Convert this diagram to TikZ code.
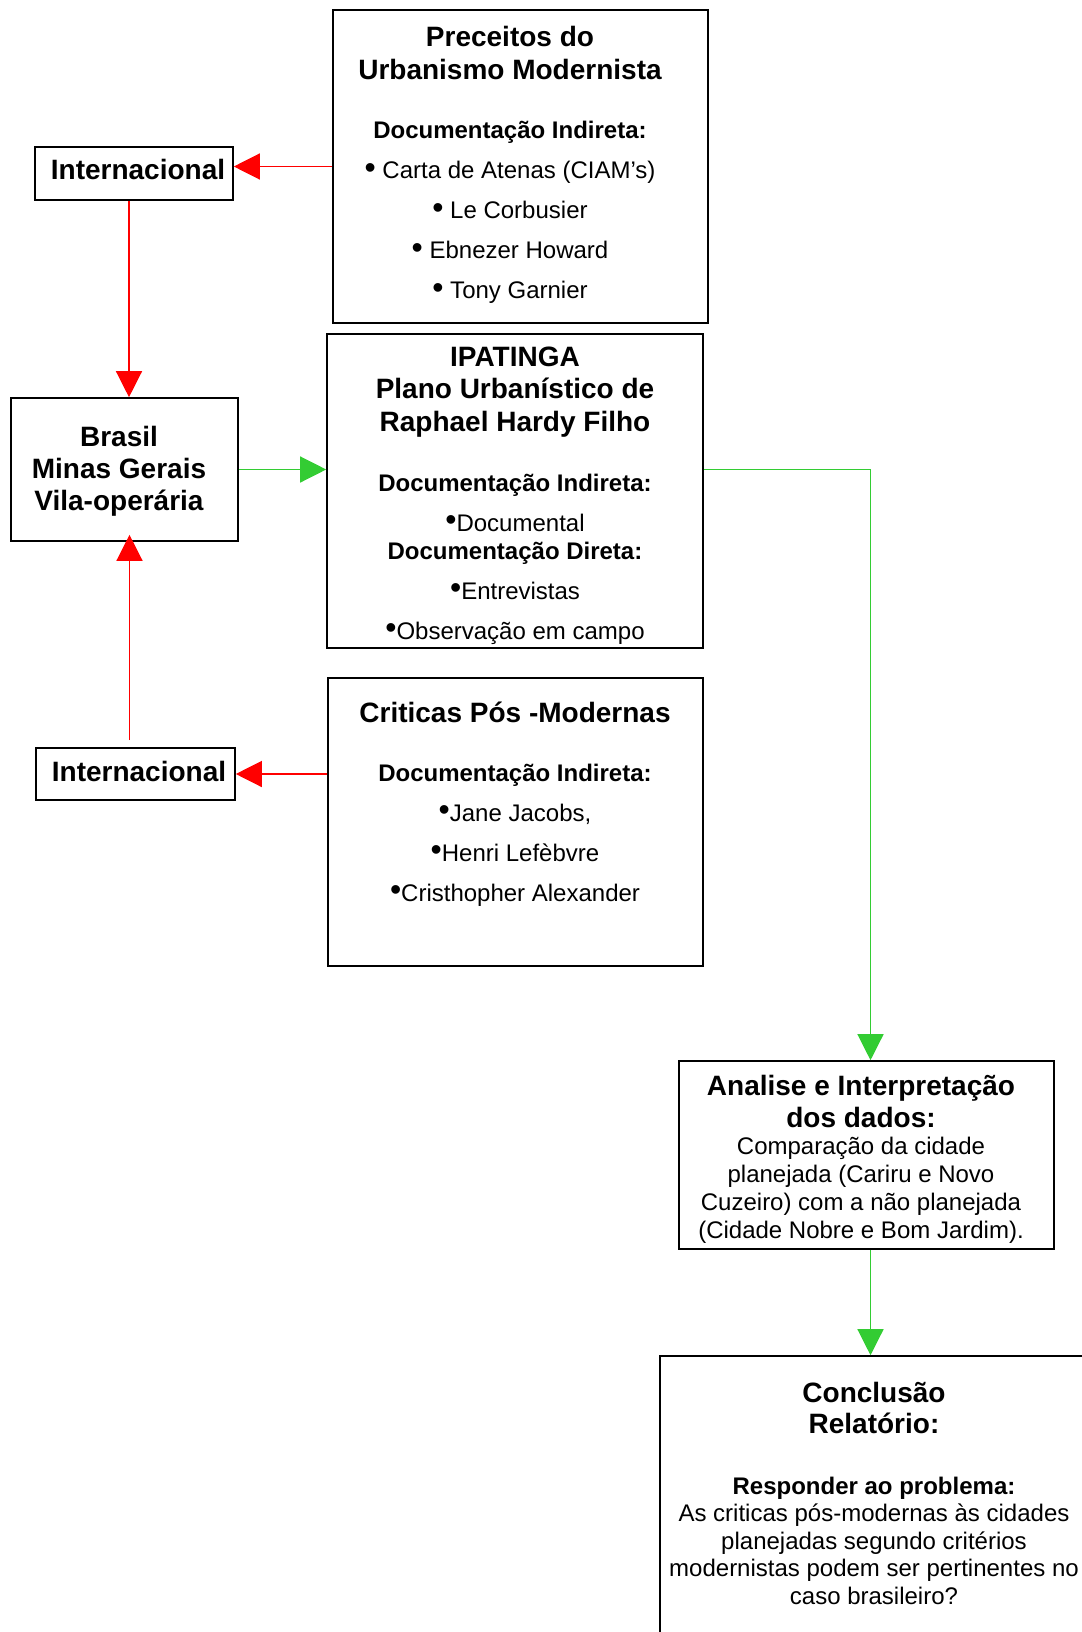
\documentclass[tikz,border=0pt]{standalone}
\usepackage{fontspec}
\setmainfont{Liberation Sans}
\usetikzlibrary{arrows.meta}
\definecolor{verde}{RGB}{51,204,51}
\setlength{\parindent}{0pt}
\setlength{\parskip}{0pt}
% tamanho, entrelinha e espaco natural entre palavras
\newcommand{\letra}[2]{\fontsize{#1}{#2}\selectfont\spaceskip=\fontdimen2\font\relax}
\newcommand{\negrito}[2]{\fontsize{#1}{#2}\selectfont\bfseries\spaceskip=\fontdimen2\font\relax}
\newcommand{\titulo}{\negrito{28}{33}}
\newcommand{\subtitulo}{\negrito{24}{40}}
\newcommand{\corpo}{\letra{24}{40}}
\newcommand{\blt}{\raisebox{.02em}{\fontsize{32}{0}\selectfont•}}

\begin{document}
\begin{tikzpicture}[x=1pt, y=-1pt,
    caixa/.style={draw, line width=1.6pt, inner sep=0pt},
    texto/.style={anchor=base, inner sep=0pt, text width=460pt, execute at begin node=\centering},
    setaVermelha/.style={red, line width=1.3pt, -{Triangle[length=26pt, width=26pt]}},
    setaVerde/.style={verde, line width=1.3pt, -{Triangle[length=26pt, width=26pt]}}]
            \useasboundingbox (0,0) rectangle (1081,1632);

            % caixas
            \node [caixa, minimum width=375pt, minimum height=313pt] (preceitos) at (520.5,166.5) {};
            \node [caixa, minimum width=198pt, minimum height=53pt] (intTop) at (134,173.5) {};
            \node [caixa, minimum width=227pt, minimum height=143pt] (brasil) at (124.5,469.5) {};
            \node [caixa, minimum width=376pt, minimum height=314pt] (ipatinga) at (515,491) {};
            \node [caixa, minimum width=199pt, minimum height=52pt] (intBot) at (135.5,774) {};
            \node [caixa, minimum width=375pt, minimum height=288pt] (criticas) at (515.5,822) {};
            \node [caixa, minimum width=375pt, minimum height=188pt] (analise) at (866.5,1155) {};
            \node [caixa, minimum width=430pt, minimum height=364pt] (conclusao) at (875,1538) {};

            % textos
            \node [texto] (preceitosTxt) at (510,47) {{\titulo Preceitos do\\Urbanismo Modernista\par}
                \vspace{19pt}{\subtitulo Documentação Indireta:\par}
                {\corpo\blt\ Carta de Atenas (CIAM’s)\par\blt\ Le Corbusier\par
                \blt\ Ebnezer Howard\par\blt\ Tony Garnier\par}};
            \node [texto] (intTopTxt) at (138,180) {\titulo Internacional};
            \node [texto] (brasilTxt) at (119,446) {\negrito{28}{32}Brasil\\Minas Gerais\\Vila-operária\par};
            \node [texto] (ipatingaTxt) at (515,366) {{\negrito{28}{32.5}IPATINGA\\Plano Urbanístico de\\Raphael Hardy Filho\par}
                \vspace{20pt}{\subtitulo Documentação Indireta:\par}
                {\corpo\blt Documental\par}
                \vspace{-12pt}{\subtitulo Documentação Direta:\par}
                {\corpo\blt Entrevistas\par\blt Observação em campo\par}};
            \node [texto] (intBotTxt) at (139,781) {\titulo Internacional};
            \node [texto] (criticasTxt) at (515,722) {{\titulo Criticas Pós -Modernas\par}
                \vspace{19pt}{\subtitulo Documentação Indireta:\par}
                {\corpo\blt Jane Jacobs,\par\blt Henri Lefèbvre\par\blt Cristhopher Alexander\par}};
            \node [texto] (analiseTxt) at (861,1095) {{\negrito{28}{32}Analise e Interpretação\\dos dados:\par}
                \vspace{-1pt}{\letra{24}{28}Comparação da cidade\\planejada (Cariru e Novo\\Cuzeiro) com a não planejada\\(Cidade Nobre e Bom Jardim).\par}};
            \node [texto] (conclusaoTxt) at (874,1402) {{\negrito{28}{31}Conclusão\\Relatório:\par}
                \vspace{33pt}{\negrito{24}{28}Responder ao problema:\par}
                {\letra{24}{27.5}As criticas pós-modernas às cidades\\planejadas segundo critérios\\modernistas podem ser pertinentes no\\caso brasileiro?\par}};

            % setas
            \draw [setaVermelha] (preceitos.west) -- (preceitos.west -| intTop.east);
            \draw [setaVermelha] ([xshift=-5pt]intTop.south) -- ([xshift=-5pt]intTop.south |- brasil.north);
            \draw [setaVermelha] ([shift={(-6,-7)}]intBot.north) -- ([shift={(-6,-7)}]intBot.north |- brasil.south);
            \draw [setaVermelha] (criticas.west |- intBot.east) -- (intBot.east);
            \draw [setaVerde] (brasil.east) -- (brasil.east -| ipatinga.west);
            \draw [setaVerde] (ipatinga.east |- brasil.east) -| ([xshift=4pt]analise.north);
            \draw [setaVerde] ([xshift=4pt]analise.south) -- ([xshift=4pt]analise.south |- conclusao.north);
\end{tikzpicture}
\end{document}
